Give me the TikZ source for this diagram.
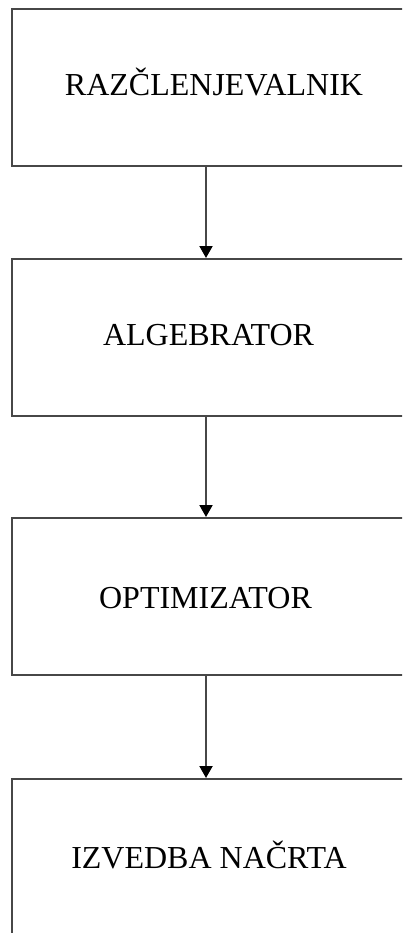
\documentclass[tikz,border=0pt]{standalone}
\usepackage{fontspec}
\setmainfont{Liberation Serif}
\usetikzlibrary{arrows.meta}
\begin{document}
\begin{tikzpicture}[x=1pt,y=-1pt,
  stagebox/.style={draw=black!72,line width=2pt,minimum width=412pt,minimum height=157pt,inner sep=0pt,anchor=north west},
  stagetext/.style={font=\fontsize{32}{36}\selectfont,anchor=base,inner sep=0pt},
  flow/.style={draw=black!72,line width=2pt,-{Triangle[length=12pt,width=13pt,color=black,fill=black]}}]
\clip (0,0) rectangle (402,933);
\useasboundingbox (0,0) rectangle (402,933);
\node[stagebox] (b1) at (11,8) {};
\node[stagebox] (b2) at (11,258) {};
\node[stagebox] (b3) at (11,517) {};
\node[stagebox] (b4) at (11,778) {};
\node[stagetext] (t1) at (214,96) {RAZČLENJEVALNIK};
\node[stagetext] (t2) at (208.5,345) {ALGEBRATOR};
\node[stagetext] (t3) at (205.5,608) {OPTIMIZATOR};
\node[stagetext] (t4) at (209,868) {IZVEDBA NAČRTA};
\coordinate (ax) at (206,0);
\draw[flow] (b1.south -| ax) -- (b2.north -| ax);
\draw[flow] (b2.south -| ax) -- (b3.north -| ax);
\draw[flow] (b3.south -| ax) -- (b4.north -| ax);
\end{tikzpicture}
\end{document}
